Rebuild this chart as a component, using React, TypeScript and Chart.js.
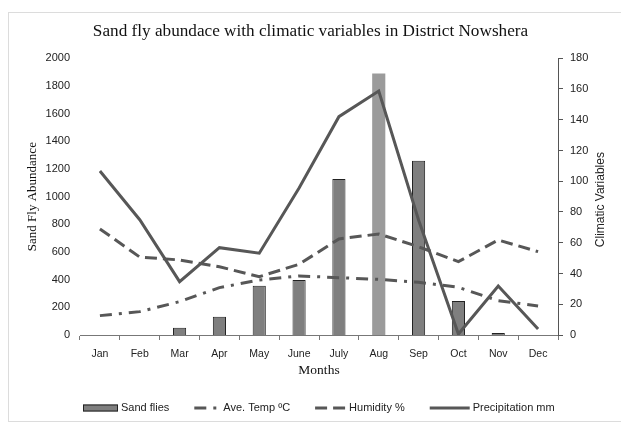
import { useEffect, useRef } from 'react';
import { Chart, registerables } from 'chart.js';

Chart.register(...registerables);

const months = ['Jan', 'Feb', 'Mar', 'Apr', 'May', 'June', 'July', 'Aug', 'Sep', 'Oct', 'Nov', 'Dec'];
const sandFlies = [0, 0, 53, 132, 356, 398, 1128, 1890, 1260, 246, 15, 0];
const aveTemp = [12.6, 15.2, 21.7, 30.8, 35.8, 38.4, 37.3, 36.2, 34.3, 31, 22.3, 18.9];
const humidity = [69, 50.7, 48.8, 44.4, 37.9, 46, 62.5, 65.7, 57.4, 47.7, 61.8, 54.2];
const precipitation = [106.7, 75, 34.7, 56.8, 53.2, 95.6, 142, 158.7, 74.8, 0.6, 31.9, 3.9];

const chartTitle = 'Sand fly abundace with climatic variables in District Nowshera';
const leftTitle = 'Sand Fly Abundance';
const rightTitle = 'Climatic Variables';
const xTitle = 'Months';

const SANS = '"Liberation Sans", Arial, sans-serif';
const SERIF = '"Liberation Serif", "Times New Roman", serif';

export default function App() {
  const ref = useRef<HTMLCanvasElement>(null);

  useEffect(() => {
    if (!ref.current) return;
    const lineColor = '#575757';
    const barColor = '#7f7f7f';

    const extrasPlugin = {
      id: 'extras',
      afterDraw(chart: any) {
        const { ctx, chartArea } = chart;
        // right axis title, reading bottom-to-top
        ctx.save();
        ctx.translate(601, (chartArea.top + chartArea.bottom) / 2 + 3);
        ctx.rotate(-Math.PI / 2);
        ctx.font = '12px ' + SANS;
        ctx.fillStyle = '#222';
        ctx.textAlign = 'center';
        ctx.textBaseline = 'middle';
        ctx.fillText(rightTitle, 0, 0);
        ctx.restore();

        // legend
        const sampleW = [35, 26, 31, 40];
        const textGap = 3;
        const itemGap = 25;
        const y = 408;
        ctx.save();
        ctx.font = '11px ' + SANS;
        const ds = chart.data.datasets;
        const widths = ds.map((d: any, i: number) => sampleW[i] + textGap + ctx.measureText(d.label).width);
        const total = widths.reduce((a: number, b: number) => a + b, 0) + itemGap * (ds.length - 1);
        let x = Math.round(319 - total / 2);
        ds.forEach((d: any, i: number) => {
          const w = sampleW[i];
          if (d.type === 'bar') {
            ctx.fillStyle = barColor;
            ctx.fillRect(x, y - 3.5, w, 7);
            ctx.strokeStyle = '#222';
            ctx.lineWidth = 1;
            ctx.setLineDash([]);
            ctx.strokeRect(x + 0.5, y - 3, w - 1, 6);
          } else {
            ctx.strokeStyle = d.borderColor;
            ctx.lineWidth = 3;
            ctx.setLineDash(d.borderDash || []);
            ctx.beginPath();
            ctx.moveTo(x, y);
            ctx.lineTo(x + w, y);
            ctx.stroke();
          }
          ctx.setLineDash([]);
          ctx.fillStyle = '#222';
          ctx.textAlign = 'left';
          ctx.textBaseline = 'middle';
          ctx.fillText(d.label, x + w + textGap, y);
          x += widths[i] + itemGap;
        });
        ctx.restore();
      },
    };

    const chart = new Chart(ref.current, {
      type: 'bar',
      data: {
        labels: months,
        datasets: [
          {
            type: 'bar',
            label: 'Sand flies',
            data: sandFlies,
            yAxisID: 'y',
            backgroundColor: sandFlies.map((_, i) => (i === 7 ? '#9b9b9b' : barColor)),
            borderColor: '#222',
            borderWidth: sandFlies.map((_, i) => (i === 7 ? 0 : 1)),
            categoryPercentage: 1,
            barPercentage: 0.33,
            order: 1,
          } as any,
          {
            type: 'line',
            label: 'Ave. Temp ºC',
            data: aveTemp,
            yAxisID: 'y1',
            borderColor: lineColor,
            backgroundColor: lineColor,
            borderWidth: 3,
            borderDash: [12, 7, 3, 7],
            pointRadius: 0,
            tension: 0,
            fill: false,
            order: 0,
          },
          {
            type: 'line',
            label: 'Humidity %',
            data: humidity,
            yAxisID: 'y1',
            borderColor: lineColor,
            backgroundColor: lineColor,
            borderWidth: 3,
            borderDash: [12, 6],
            pointRadius: 0,
            tension: 0,
            fill: false,
            order: 0,
          },
          {
            type: 'line',
            label: 'Precipitation mm',
            data: precipitation,
            yAxisID: 'y1',
            borderColor: lineColor,
            backgroundColor: lineColor,
            borderWidth: 3,
            pointRadius: 0,
            tension: 0,
            fill: false,
            order: 0,
          },
        ],
      },
      options: {
        responsive: false,
        animation: false,
        devicePixelRatio: 1,
        layout: { padding: { top: 10, left: 10, right: 10, bottom: 46 } },
        plugins: {
          tooltip: { enabled: false },
          legend: { display: false },
          title: {
            display: true,
            text: chartTitle,
            font: { family: SERIF, size: 17.2, weight: 'normal' },
            color: '#111',
            padding: { top: 10.8, bottom: 16.8 },
          },
        },
        scales: {
          x: {
            offset: true,
            grid: { display: true, drawOnChartArea: false, drawTicks: true, tickLength: 5, offset: true, color: '#777' },
            border: { display: true, color: '#777', width: 1 },
            ticks: { font: { family: SANS, size: 10.5 }, color: '#222', padding: 8, maxRotation: 0, autoSkip: false },
            title: { display: true, text: xTitle, font: { family: SERIF, size: 13.5 }, color: '#111', padding: { top: 0, bottom: 0 } },
            afterFit: (s: any) => { s.height = 44; },
          },
          y: {
            position: 'left',
            min: 0,
            max: 2000,
            ticks: {
              stepSize: 200,
              font: { family: SANS, size: 11 },
              color: '#222',
              padding: 10,
              callback: (v: any) => String(v),
            },
            grid: { display: false, drawTicks: false },
            border: { display: false },
            title: { display: true, text: leftTitle, font: { family: SERIF, size: 13 }, color: '#111', padding: { top: 15, bottom: 0 } },
            afterFit: (s: any) => { s.width = 70; },
          },
          y1: {
            position: 'right',
            min: 0,
            max: 180,
            ticks: { stepSize: 20, font: { family: SANS, size: 11 }, color: '#222', padding: 7, callback: (v: any) => String(v) },
            grid: { drawOnChartArea: false, drawTicks: true, tickLength: 5, color: '#555' },
            border: { display: true, color: '#555' },
            afterFit: (s: any) => { s.width = 53; },
          },
        },
      },
      plugins: [extrasPlugin],
    } as any);
    return () => chart.destroy();
  }, []);

  return (
    <div style={{ position: 'absolute', left: 0, top: 0, width: 621, height: 425 }}>
      <div
        style={{
          position: 'absolute',
          left: 8,
          top: 12,
          width: 613,
          height: 410,
          borderTop: '1px solid #dcdcdc',
          borderLeft: '1px solid #dcdcdc',
          borderBottom: '1px solid #dcdcdc',
          boxSizing: 'border-box',
        }}
      />
      <canvas ref={ref} width={621} height={425} style={{ position: 'absolute', left: 0, top: 0 }} />
    </div>
  );
}
